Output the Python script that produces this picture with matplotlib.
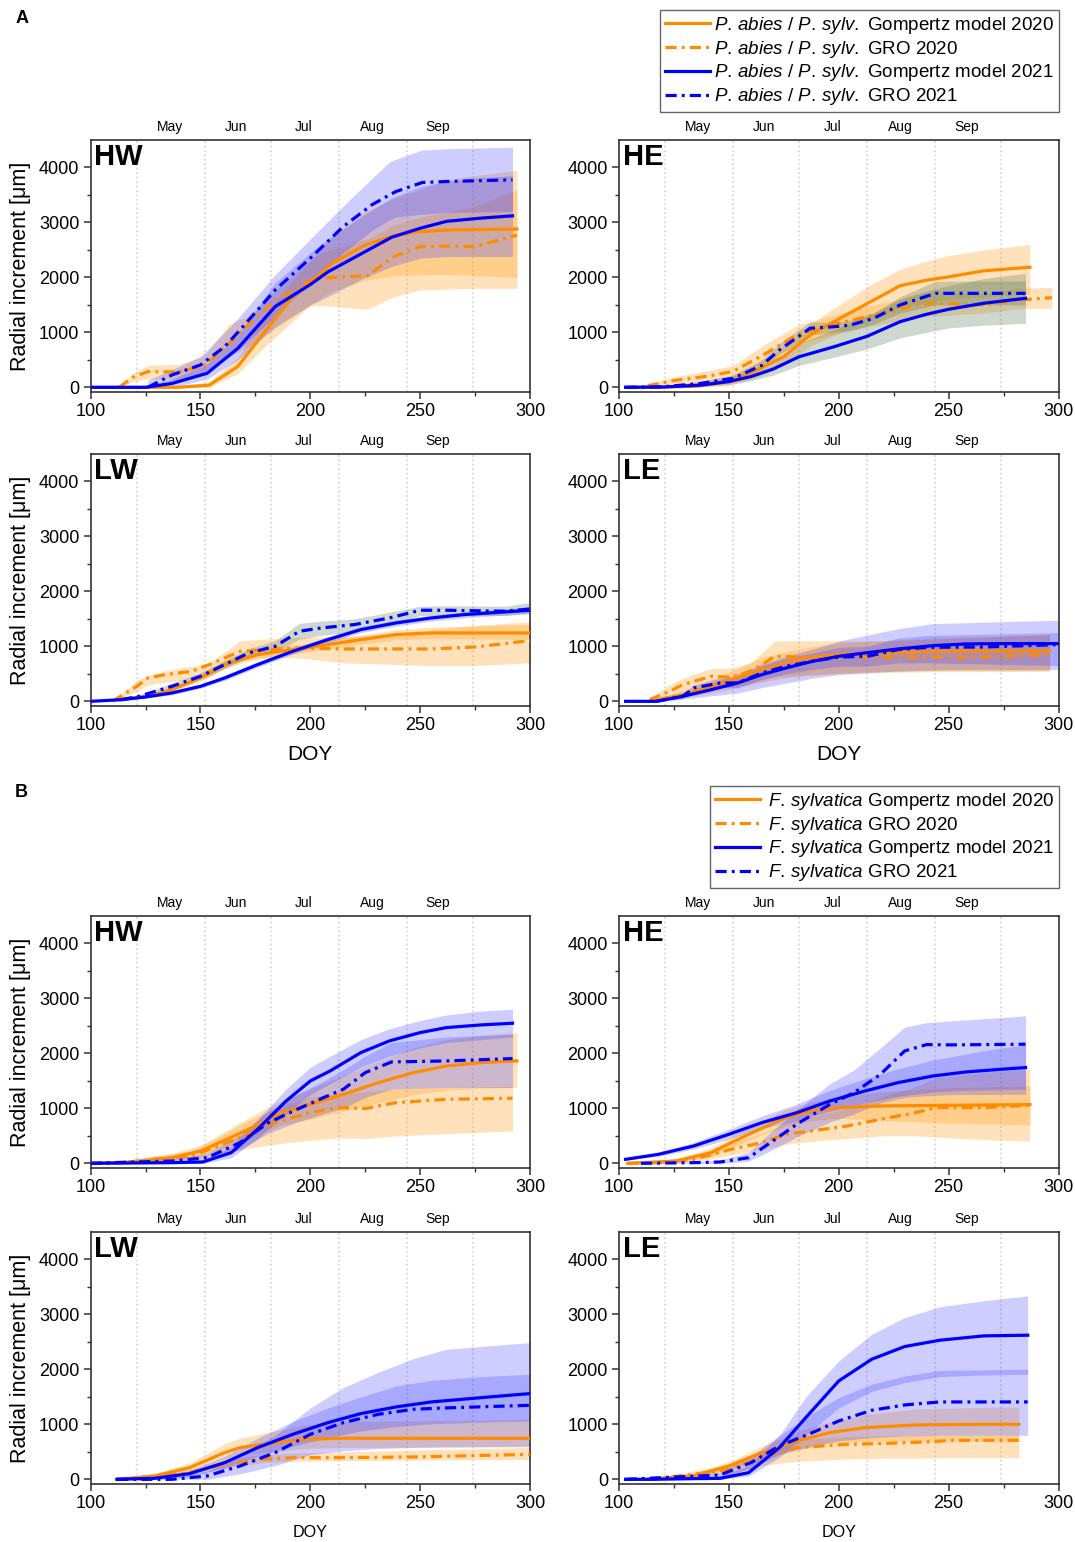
import numpy as np
import matplotlib
matplotlib.use('Agg')
import matplotlib.pyplot as plt
from matplotlib.lines import Line2D

plt.rcParams['font.family'] = ['Liberation Sans', 'DejaVu Sans']
plt.rcParams['mathtext.fontset'] = 'custom'
plt.rcParams['mathtext.rm'] = 'Liberation Sans'
plt.rcParams['mathtext.it'] = 'Liberation Sans:italic'

# rows: [DOY, mean, lower, upper]
# ---- A: P. abies / P. sylv. ----
a_hw_gom20 = [[100, 0, 0, 0], [140, 0, 0, 20], [154, 40, 0, 100], [167, 380, 250, 550], [181, 1100, 800, 1400],
              [192, 1650, 1200, 1950], [200, 1900, 1500, 2300], [210, 2260, 1750, 2750], [225, 2590, 1950, 3200],
              [239, 2770, 2030, 3450], [250, 2835, 2050, 3600], [265, 2865, 2050, 3800], [294, 2880, 2000, 3950]]
a_hw_gro20 = [[113, 0, 0, 0], [119, 180, 100, 250], [126, 285, 150, 400], [140, 280, 150, 420], [152, 400, 250, 580],
              [163, 800, 550, 1150], [172, 1150, 750, 1300], [185, 1600, 1100, 1800], [200, 1950, 1480, 2300],
              [205, 1990, 1490, 2450], [226, 2030, 1420, 2700], [238, 2380, 1650, 2950], [250, 2560, 1770, 3100],
              [265, 2570, 1790, 3200], [275, 2560, 1800, 3300], [294, 2770, 1800, 3600]]
a_hw_gom21 = [[100, 0, 0, 0], [125, 0, 0, 20], [137, 70, 0, 150], [153, 255, 150, 420], [167, 710, 500, 950],
              [184, 1470, 1100, 1900], [200, 1870, 1500, 2450], [208, 2100, 1650, 2700], [225, 2470, 2000, 3150],
              [237, 2730, 2200, 3450], [250, 2895, 2350, 3650], [262, 3020, 2380, 3750], [278, 3080, 2380, 3820],
              [292, 3120, 2380, 3850]]
a_hw_gro21 = [[126, 0, 0, 130], [137, 225, 100, 320], [150, 407, 250, 560], [161, 740, 500, 1000], [168, 1044, 700, 1300],
              [184, 1772, 1300, 2050], [200, 2349, 1900, 2700], [215, 2926, 2450, 3300], [228, 3320, 2850, 3800],
              [236, 3500, 3050, 4100], [239, 3563, 3100, 4150], [251, 3727, 3150, 4320], [262, 3745, 3180, 4340],
              [292, 3775, 3200, 4370]]

a_he_gom20 = [[103, 0, 0, 0], [120, 5, 0, 30], [135, 20, 0, 80], [150, 100, 30, 200], [163, 320, 180, 450],
              [175, 560, 400, 750], [187, 950, 750, 1150], [198, 1200, 950, 1450], [216, 1590, 1250, 1900],
              [228, 1850, 1450, 2150], [240, 1950, 1550, 2300], [250, 2010, 1600, 2400], [266, 2120, 1650, 2500],
              [287, 2185, 1700, 2600]]
a_he_gro20 = [[113, 30, 0, 60], [126, 130, 60, 200], [140, 200, 100, 300], [152, 290, 150, 400], [167, 620, 450, 800],
              [182, 980, 800, 1150], [197, 1135, 950, 1300], [213, 1290, 1100, 1480], [225, 1380, 1180, 1580],
              [235, 1500, 1280, 1700], [244, 1530, 1300, 1750], [266, 1500, 1350, 1700], [282, 1590, 1430, 1800],
              [297, 1630, 1440, 1820]]
a_he_gom21 = [[103, 0, 0, 0], [120, 5, 0, 20], [137, 40, 10, 80], [150, 105, 50, 180], [160, 195, 120, 300],
              [170, 330, 220, 480], [182, 557, 400, 800], [198, 740, 550, 1050], [213, 930, 700, 1300],
              [228, 1195, 900, 1600], [240, 1330, 1000, 1750], [250, 1420, 1080, 1850], [266, 1530, 1130, 1980],
              [285, 1620, 1165, 2076]]
a_he_gro21 = [[103, 0, 0, 0], [120, 10, 0, 30], [137, 70, 40, 110], [152, 165, 120, 230], [165, 400, 330, 500],
              [173, 680, 600, 800], [187, 1075, 950, 1190], [197, 1100, 1000, 1180], [205, 1130, 1030, 1220],
              [216, 1257, 1150, 1350], [228, 1500, 1350, 1650], [244, 1710, 1500, 1930], [285, 1710, 1500, 1936]]

a_lw_gom20 = [[113, 30, 20, 40], [126, 91, 70, 120], [137, 212, 170, 260], [150, 425, 360, 500], [161, 668, 600, 750],
              [176, 850, 780, 930], [192, 941, 870, 1020], [208, 1032, 950, 1110], [223, 1123, 1040, 1200],
              [239, 1214, 1120, 1300], [255, 1244, 1140, 1350], [300, 1244, 1130, 1400]]
a_lw_gro20 = [[110, 0, 0, 0], [121, 273, 180, 380], [126, 425, 300, 470], [134, 486, 350, 560], [146, 546, 400, 640],
              [154, 668, 450, 700], [168, 910, 750, 1100], [181, 941, 780, 1140], [192, 971, 800, 1160],
              [215, 953, 700, 1180], [231, 953, 680, 1220], [255, 953, 650, 1300], [275, 989, 650, 1380],
              [300, 1105, 700, 1450]]
a_lw_gom21 = [[100, 0, 0, 0], [114, 30, 20, 40], [125, 79, 60, 100], [137, 152, 120, 180], [150, 273, 240, 310],
              [161, 425, 380, 470], [176, 668, 620, 720], [192, 910, 860, 960], [208, 1123, 1070, 1180],
              [223, 1305, 1250, 1360], [239, 1426, 1370, 1480], [255, 1517, 1460, 1570], [270, 1578, 1520, 1630],
              [300, 1657, 1600, 1720]]
a_lw_gro21 = [[114, 30, 20, 40], [122, 91, 60, 120], [137, 273, 220, 330], [150, 455, 400, 520], [161, 668, 600, 740],
              [172, 880, 800, 960], [184, 1001, 900, 1100], [195, 1275, 1130, 1420], [205, 1335, 1200, 1460],
              [220, 1396, 1270, 1500], [236, 1517, 1400, 1620], [250, 1657, 1560, 1730], [262, 1657, 1570, 1740],
              [289, 1639, 1560, 1730], [300, 1681, 1600, 1800]]

a_le_gom20 = [[114, 0, 0, 0], [129, 121, 60, 200], [142, 273, 150, 400], [154, 425, 250, 600], [165, 577, 350, 800],
              [176, 710, 430, 900], [188, 807, 480, 1000], [200, 850, 520, 1060], [219, 880, 540, 1100],
              [243, 910, 560, 1150], [296, 923, 560, 1210]]
a_le_gro20 = [[114, 30, 0, 60], [123, 182, 80, 300], [129, 303, 150, 420], [142, 455, 250, 600], [151, 437, 260, 600],
              [160, 546, 320, 700], [171, 819, 450, 1100], [182, 807, 470, 1100], [200, 807, 500, 1100],
              [219, 807, 520, 1100], [243, 807, 540, 1130], [266, 807, 540, 1170], [296, 850, 546, 1214]]
a_le_gom21 = [[103, 0, 0, 0], [117, 0, 0, 0], [129, 91, 40, 150], [142, 212, 100, 320], [154, 334, 150, 500],
              [165, 486, 250, 680], [176, 607, 330, 820], [188, 728, 420, 950], [200, 819, 486, 1093],
              [212, 880, 520, 1200], [227, 953, 550, 1320], [243, 1014, 570, 1414], [258, 1044, 577, 1430],
              [274, 1050, 577, 1450], [300, 1050, 577, 1475]]
a_le_gro21 = [[117, 0, 0, 0], [129, 91, 50, 130], [134, 243, 170, 300], [146, 334, 250, 420], [154, 334, 250, 430],
              [165, 516, 400, 650], [176, 637, 500, 780], [188, 728, 580, 880], [200, 807, 640, 980],
              [213, 819, 640, 1000], [227, 941, 700, 1150], [241, 983, 700, 1200], [266, 989, 680, 1220],
              [300, 1032, 650, 1250]]

# ---- B: F. sylvatica ----
b_hw_gom20 = [[100, 0, 0, 0], [118, 24, 0, 60], [137, 103, 50, 180], [150, 225, 130, 330], [162, 437, 300, 600],
              [175, 680, 500, 900], [187, 923, 700, 1150], [200, 1074, 800, 1350], [215, 1256, 950, 1600],
              [231, 1469, 1100, 1850], [247, 1651, 1250, 2100], [262, 1772, 1330, 2250], [278, 1834, 1370, 2330],
              [294, 1863, 1380, 2380]]
b_hw_gro20 = [[117, 24, 0, 50], [129, 73, 30, 130], [146, 134, 60, 220], [157, 300, 150, 450], [168, 467, 250, 700],
              [184, 741, 350, 1000], [200, 923, 420, 1200], [212, 1014, 460, 1280], [225, 996, 450, 1300],
              [239, 1105, 500, 1350], [262, 1165, 540, 1380], [292, 1184, 589, 1400]]
b_hw_gom21 = [[100, 0, 0, 0], [137, 12, 0, 30], [151, 24, 0, 60], [164, 194, 100, 300], [176, 619, 450, 800],
              [189, 1135, 900, 1350], [200, 1499, 1250, 1750], [209, 1681, 1450, 1950], [223, 2015, 1750, 2250],
              [236, 2228, 1950, 2450], [250, 2379, 2100, 2600], [262, 2470, 2200, 2700], [278, 2519, 2250, 2770],
              [292, 2549, 2300, 2804]]
b_hw_gro21 = [[100, 0, 0, 0], [137, 42, 0, 80], [153, 103, 40, 180], [168, 376, 250, 520], [181, 741, 550, 950],
              [194, 983, 750, 1250], [206, 1196, 900, 1500], [215, 1347, 1000, 1700], [225, 1651, 1200, 1950],
              [237, 1845, 1350, 2200], [262, 1863, 1380, 2300], [292, 1906, 1380, 2350]]

b_he_gom20 = [[104, 0, 0, 0], [126, 42, 10, 80], [142, 194, 120, 280], [151, 376, 280, 480], [164, 619, 500, 760],
              [176, 832, 680, 980], [188, 953, 780, 1120], [200, 1014, 820, 1200], [219, 1044, 780, 1300],
              [251, 1056, 730, 1380], [287, 1068, 700, 1408]]
b_he_gro20 = [[104, 0, 0, 0], [118, 12, 0, 40], [134, 73, 20, 150], [151, 255, 150, 380], [165, 376, 250, 550],
              [176, 528, 350, 750], [193, 619, 420, 900], [204, 680, 450, 1000], [219, 801, 500, 1200],
              [235, 923, 500, 1400], [244, 1014, 480, 1550], [266, 1014, 430, 1650], [287, 1056, 407, 1712]]
b_he_gom21 = [[103, 73, 60, 90], [118, 164, 130, 200], [134, 316, 260, 380], [150, 528, 440, 620], [165, 740, 630, 860],
              [181, 923, 780, 1080], [196, 1135, 950, 1330], [212, 1317, 1100, 1540], [227, 1469, 1220, 1720],
              [243, 1590, 1300, 1880], [258, 1663, 1330, 1990], [274, 1712, 1340, 2100], [285, 1742, 1350, 2150]]
b_he_gro21 = [[110, 0, 0, 0], [134, 12, 0, 30], [146, 24, 0, 60], [159, 103, 40, 200], [170, 407, 250, 600],
              [182, 740, 500, 1000], [196, 1074, 750, 1450], [207, 1287, 900, 1700], [219, 1620, 1100, 2100],
              [230, 2045, 1200, 2480], [240, 2160, 1230, 2560], [251, 2155, 1250, 2590], [285, 2167, 1256, 2683]]

b_lw_gom20 = [[112, 0, 0, 0], [129, 61, 30, 100], [145, 212, 150, 300], [161, 486, 380, 650], [168, 577, 450, 750],
              [184, 668, 500, 880], [197, 728, 560, 980], [215, 747, 580, 1050], [300, 747, 590, 1090]]
b_lw_gro20 = [[112, 0, 0, 0], [129, 61, 30, 100], [145, 121, 80, 180], [161, 273, 200, 360], [178, 364, 300, 450],
              [192, 395, 330, 480], [215, 395, 340, 500], [247, 407, 350, 530], [300, 455, 360, 580]]
b_lw_gom21 = [[112, 0, 0, 0], [129, 18, 0, 40], [145, 103, 50, 160], [161, 303, 200, 420], [176, 577, 420, 750],
              [192, 819, 600, 1050], [208, 1032, 760, 1300], [223, 1196, 880, 1500], [239, 1317, 960, 1700],
              [255, 1408, 1010, 1800], [278, 1487, 1040, 1870], [300, 1560, 1062, 1912]]
b_lw_gro21 = [[112, 0, 0, 0], [137, 0, 0, 30], [153, 61, 0, 150], [168, 243, 100, 450], [184, 486, 250, 800],
              [200, 819, 450, 1300], [215, 1032, 520, 1669], [231, 1184, 560, 1950], [247, 1275, 580, 2200],
              [262, 1300, 590, 2367], [300, 1347, 600, 2489]]

b_le_gom20 = [[113, 0, 0, 0], [134, 61, 30, 100], [150, 243, 180, 320], [165, 486, 380, 600], [181, 698, 550, 870],
              [196, 850, 650, 1050], [212, 941, 690, 1180], [235, 989, 700, 1280], [266, 1001, 700, 1310],
              [282, 1001, 700, 1317]]
b_le_gro20 = [[113, 0, 0, 0], [134, 91, 40, 150], [150, 182, 100, 280], [165, 395, 250, 520], [181, 577, 330, 720],
              [204, 637, 370, 780], [219, 650, 380, 790], [243, 686, 390, 800], [251, 710, 395, 800],
              [282, 710, 395, 800]]
b_le_gom21 = [[103, 0, 0, 0], [115, 0, 0, 0], [134, 12, 0, 30], [146, 18, 0, 60], [159, 121, 60, 250],
              [173, 577, 400, 800], [185, 1123, 800, 1500], [200, 1790, 1300, 2155], [215, 2185, 1600, 2640],
              [230, 2416, 1760, 2944], [246, 2531, 1870, 3138], [266, 2610, 1900, 3250], [286, 2622, 1912, 3338]]
b_le_gro21 = [[103, 0, 0, 0], [146, 79, 30, 130], [160, 303, 200, 420], [173, 607, 450, 800], [188, 850, 600, 1200],
              [200, 1062, 700, 1487], [215, 1256, 760, 1730], [230, 1353, 790, 1880], [246, 1408, 800, 1980],
              [286, 1408, 801, 2003]]

sites = ['HW', 'HE', 'LW', 'LE']
month_starts = [121, 152, 182, 213, 244, 274]
month_mid = [136, 166, 197, 228, 258]
month_names = ['May', 'Jun', 'Jul', 'Aug', 'Sep']

labels_a = [r'$\mathit{P.\,abies}$ / $\mathit{P.\,sylv.}$ Gompertz model 2020',
            r'$\mathit{P.\,abies}$ / $\mathit{P.\,sylv.}$ GRO 2020',
            r'$\mathit{P.\,abies}$ / $\mathit{P.\,sylv.}$ Gompertz model 2021',
            r'$\mathit{P.\,abies}$ / $\mathit{P.\,sylv.}$ GRO 2021']
labels_b = [r'$\mathit{F.\,sylvatica}$ Gompertz model 2020',
            r'$\mathit{F.\,sylvatica}$ GRO 2020',
            r'$\mathit{F.\,sylvatica}$ Gompertz model 2021',
            r'$\mathit{F.\,sylvatica}$ GRO 2021']

ORANGE = '#FF8C00'
BLUE = '#0000FF'
DASHDOT = (0, (3.5, 1.6, 0.9, 1.6))
line_styles = [(ORANGE, '-'), (ORANGE, DASHDOT), (BLUE, '-'), (BLUE, DASHDOT)]
OR = ('#FFA01E', 0.30)
BL = ('#3A3AFF', 0.25)
GR = ('#5E8060', 0.30)
band_colors = {
    ('A', 'HW'): [OR, OR, BL, BL], ('A', 'HE'): [OR, OR, GR, GR],
    ('A', 'LW'): [OR, OR, BL, GR], ('A', 'LE'): [OR, OR, BL, BL],
    ('B', 'HW'): [OR, OR, BL, BL], ('B', 'HE'): [OR, OR, BL, BL],
    ('B', 'LW'): [OR, OR, BL, BL], ('B', 'LE'): [OR, OR, BL, BL],
}
panels = {
    ('A', 'HW'): [a_hw_gom20, a_hw_gro20, a_hw_gom21, a_hw_gro21],
    ('A', 'HE'): [a_he_gom20, a_he_gro20, a_he_gom21, a_he_gro21],
    ('A', 'LW'): [a_lw_gom20, a_lw_gro20, a_lw_gom21, a_lw_gro21],
    ('A', 'LE'): [a_le_gom20, a_le_gro20, a_le_gom21, a_le_gro21],
    ('B', 'HW'): [b_hw_gom20, b_hw_gro20, b_hw_gom21, b_hw_gro21],
    ('B', 'HE'): [b_he_gom20, b_he_gro20, b_he_gom21, b_he_gro21],
    ('B', 'LW'): [b_lw_gom20, b_lw_gro20, b_lw_gom21, b_lw_gro21],
    ('B', 'LE'): [b_le_gom20, b_le_gro20, b_le_gom21, b_le_gro21],
}

W, H = 1075, 1542
fig = plt.figure(figsize=(W / 100, H / 100), dpi=100)

col_left = [90.6, 619]
ax_w = 439.5
row_bottom = {('A', 0): 392, ('A', 1): 706, ('B', 0): 1168, ('B', 1): 1484}
ax_h = 252

for (grp, site), series in panels.items():
    i = sites.index(site)
    r, c = divmod(i, 2)
    x0 = col_left[c] / W
    y0 = 1 - row_bottom[(grp, r)] / H
    ax = fig.add_axes([x0, y0, ax_w / W, ax_h / H])

    for d in month_starts:
        ax.axvline(d, color='#e2e2e2', lw=1.6, ls=(0, (1, 1)), zorder=0)

    for s, (bc, ba) in zip(series, band_colors[(grp, site)]):
        arr = np.array(s, dtype=float)
        ax.fill_between(arr[:, 0], arr[:, 2], arr[:, 3], color=bc, alpha=ba, lw=0, zorder=1)
    for s, (lc, ls) in zip(series, line_styles):
        arr = np.array(s, dtype=float)
        ax.plot(arr[:, 0], arr[:, 1], color=lc, ls=ls, lw=2.3, zorder=3)

    ax.set_xlim(100, 300)
    ax.set_ylim(-85, 4500)
    ax.set_xticks([100, 150, 200, 250, 300])
    ax.set_xticks([125, 175, 225, 275], minor=True)
    ax.set_yticks([0, 1000, 2000, 3000, 4000])
    ax.set_yticks([500, 1500, 2500, 3500], minor=True)
    ax.tick_params(which='major', direction='out', length=5, width=1.1, labelsize=13,
                   color='#333333', pad=3)
    ax.tick_params(which='minor', direction='out', length=3, width=1.0, color='#333333')
    for sp in ax.spines.values():
        sp.set_linewidth(1.2)
        sp.set_color('#333333')

    sec = ax.secondary_xaxis('top')
    sec.set_xticks(month_mid, month_names)
    sec.tick_params(length=0, labelsize=10, pad=4)
    sec.spines['top'].set_visible(False)

    ax.text(0.008, 0.988, site, transform=ax.transAxes, ha='left', va='top',
            fontsize=21, fontweight='bold')

    if c == 0:
        ax.set_ylabel('Radial increment [\u03bcm]', fontsize=15.5, labelpad=6)
    if r == 1:
        if grp == 'A':
            ax.set_xlabel('DOY', fontsize=15, labelpad=8)
        else:
            ax.set_xlabel('DOY', fontsize=11.6, labelpad=9)

fig.text(0.014, 1 - 10 / H, 'A', fontsize=13, fontweight='bold', va='top', ha='left')
fig.text(0.014, 1 - 784 / H, 'B', fontsize=13, fontweight='bold', va='top', ha='left')

handles = [Line2D([], [], color=lc, ls=ls, lw=2.3) for lc, ls in line_styles]
leg_kw = dict(loc='upper right', fontsize=13.5, handlelength=2.4, labelspacing=0.15,
              borderpad=0.25, borderaxespad=0, frameon=True, fancybox=False,
              edgecolor='#666666', framealpha=1)
leg_a = fig.legend(handles, labels_a, bbox_to_anchor=(1059 / W, 1 - 10 / H),
                   handletextpad=0.25, **leg_kw)
leg_a.get_frame().set_linewidth(1.0)
leg_b = fig.legend(handles, labels_b, bbox_to_anchor=(1059 / W, 1 - 786 / H),
                   handletextpad=0.45, **leg_kw)
leg_b.get_frame().set_linewidth(1.0)

fig.savefig('out.png', dpi=100)
